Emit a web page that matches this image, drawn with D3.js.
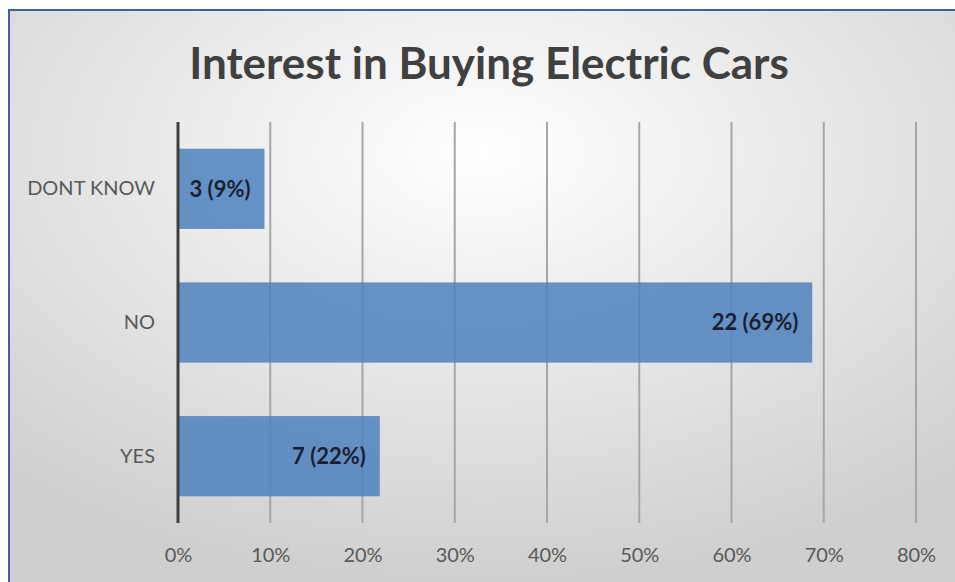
<!DOCTYPE html>
<html><head><meta charset="utf-8">
<script src="https://cdn.jsdelivr.net/npm/d3@7"></script>
<style>body{margin:0;background:#fff}svg{display:block}</style>
</head><body>
<script>
const categories = ["DONT KNOW", "NO", "YES"];
const counts = [3, 22, 7];
const percents = [0.09375, 0.6875, 0.21875];
const tickValues = [0, 0.1, 0.2, 0.3, 0.4, 0.5, 0.6, 0.7, 0.8];
const title = "Interest in Buying Electric Cars";

const W = 955, H = 582;
const svg = d3.select("body").append("svg").attr("width", W).attr("height", H);
const defs = svg.append("defs");
const grad = defs.append("radialGradient").attr("id", "bg")
  .attr("cx", "50%").attr("cy", "25%").attr("r", "75%");
grad.append("stop").attr("offset", "0%").attr("stop-color", "#ffffff");
grad.append("stop").attr("offset", "100%").attr("stop-color", "#cfcfcf");

svg.append("rect").attr("x", 8).attr("y", 9).attr("width", W - 8).attr("height", H - 9)
  .attr("fill", "url(#bg)");
svg.append("path").attr("d", `M9,${H} V10 H${W}`).attr("fill", "none")
  .attr("stroke", "#3a64a0").attr("stroke-width", 2);

const font = "Lato, 'Open Sans', sans-serif";
svg.append("text").attr("x", 489).attr("y", 79).attr("text-anchor", "middle")
  .attr("font-family", font).attr("font-weight", "bold").attr("font-size", 44)
  .attr("fill", "#404040").text(title);

const x = d3.scaleLinear().domain([0, 0.8]).range([178, 916]);
const y = d3.scaleBand().domain(categories).range([122, 523]).paddingInner(0.4).paddingOuter(0.2);

// gridlines
svg.append("g").selectAll("line").data(tickValues.slice(1)).join("line")
  .attr("x1", d => x(d)).attr("x2", d => x(d)).attr("y1", 122).attr("y2", 523)
  .attr("stroke", "#a6a6a6").attr("stroke-width", 2);

// bars
svg.append("g").selectAll("rect").data(categories).join("rect")
  .attr("x", x(0)).attr("y", d => y(d))
  .attr("width", (d, i) => x(percents[i]) - x(0)).attr("height", y.bandwidth())
  .attr("fill", "#4f81bd").attr("fill-opacity", 0.86);

// axis line
svg.append("line").attr("x1", x(0)).attr("x2", x(0)).attr("y1", 122).attr("y2", 523)
  .attr("stroke", "#404040").attr("stroke-width", 3);

// x tick labels
const xAxis = svg.append("g").attr("transform", "translate(0,545)")
  .call(d3.axisBottom(x).tickValues(tickValues).tickFormat(d3.format(".0%")).tickSize(0));
xAxis.select(".domain").remove();
xAxis.selectAll("text").attr("font-family", font).attr("font-size", 20).attr("fill", "#595959");

// y category labels
const yAxis = svg.append("g").attr("transform", "translate(158,0)")
  .call(d3.axisLeft(y).tickSize(0));
yAxis.select(".domain").remove();
yAxis.selectAll("text").attr("font-family", font).attr("font-size", 20).attr("fill", "#595959");

// data labels
svg.append("g").selectAll("text").data(categories).join("text")
  .attr("x", (d, i) => x(percents[i]) - 14).attr("y", d => y(d) + y.bandwidth() / 2)
  .attr("dy", "0.35em").attr("text-anchor", "end")
  .attr("font-family", font).attr("font-weight", "bold").attr("font-size", 22)
  .attr("fill", "#1a1f33")
  .text((d, i) => `${counts[i]} (${Math.round(percents[i] * 100)}%)`);
</script>
</body></html>
